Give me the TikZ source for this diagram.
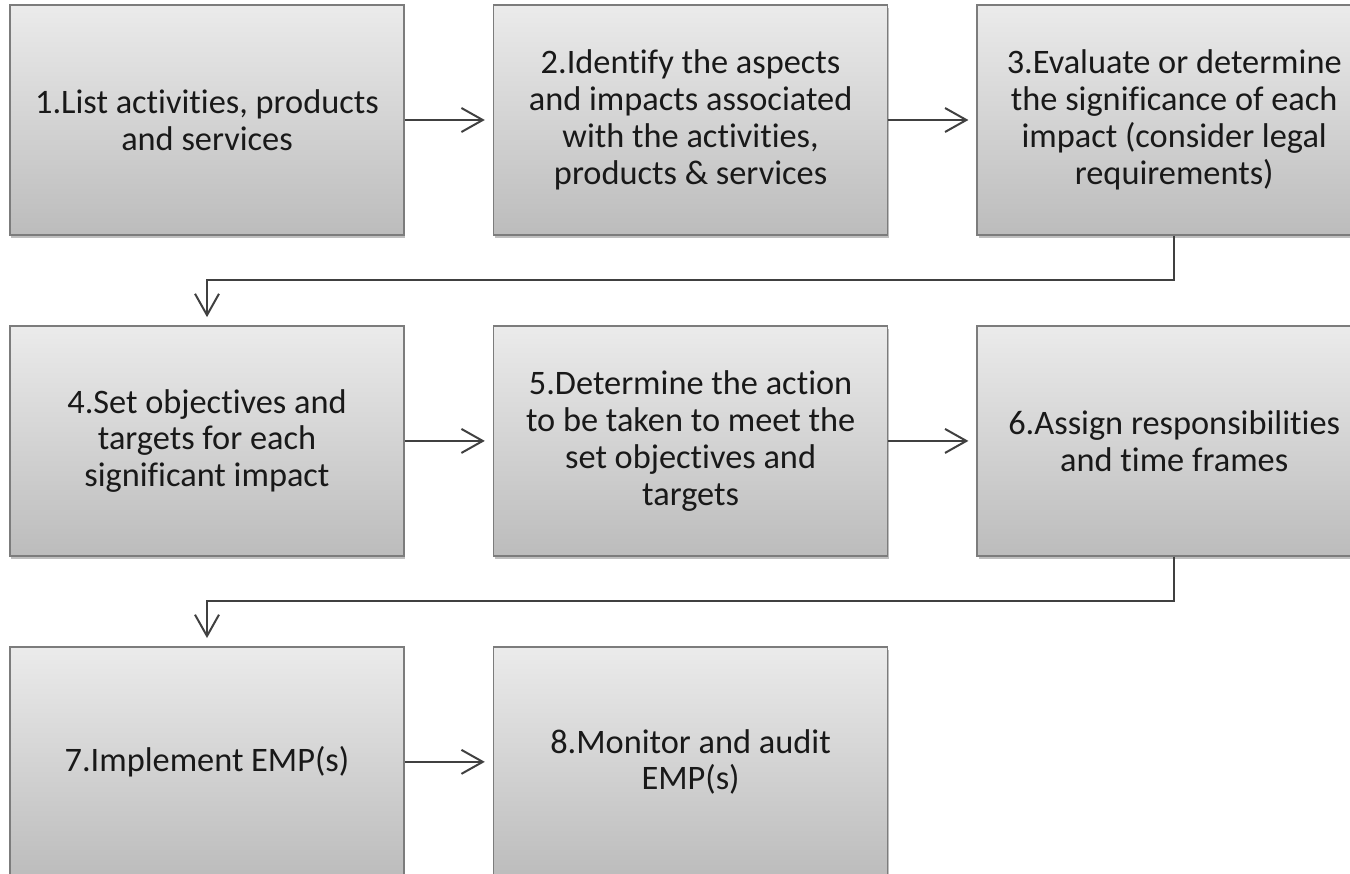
\documentclass[tikz,border=0pt]{standalone}
\usepackage{fontspec}
\setmainfont{Carlito}[Ligatures={NoCommon}]
\usetikzlibrary{arrows.meta, positioning, calc, shadows}

\definecolor{boxtop}{HTML}{EBEBEB}
\definecolor{boxbot}{HTML}{BCBCBC}
\definecolor{boxline}{HTML}{7C7C7C}
\definecolor{arrowline}{HTML}{404040}

\begin{document}
\begin{tikzpicture}[
  stepbox/.style = {draw=boxline, line width=1.2pt, top color=boxtop, bottom color=boxbot,
    minimum height=172.5pt, minimum width=295.5pt, align=center, inner sep=0pt,
    font=\fontsize{25.75pt}{27.6pt}\selectfont, text=black!90,
    drop shadow={shadow xshift=1pt, shadow yshift=-2pt, opacity=0.25, fill=black}},
  arrow/.style = {draw=arrowline, line width=1.5pt,
    -{Straight Barb[length=16pt, width=18pt, line width=1.5pt]}, shorten >=6pt},
  node distance=67pt and 66pt
]
  \useasboundingbox (0,0) rectangle (1012.5pt,-655.5pt);

  % first row
  \node[stepbox] (b1) at (155.25pt,-90pt) {1.List activities, products\\and services};
  \node[stepbox, right=of b1] (b2) {2.Identify the aspects\\and impacts associated\\with the activities,\\products \& services};
  \node[stepbox, right=of b2] (b3) {3.Evaluate or determine\\the significance of each\\impact (consider legal\\requirements)};

  % second row
  \node[stepbox, below=of b1] (b4) {4.Set objectives and\\targets for each\\significant impact};
  \node[stepbox, right=of b4] (b5) {5.Determine the action\\to be taken to meet the\\set objectives and\\targets};
  \node[stepbox, right=of b5] (b6) {6.Assign responsibilities\\and time frames};

  % third row
  \node[stepbox, below=of b4] (b7) {7.Implement EMP(s)};
  \node[stepbox, right=of b7] (b8) {8.Monitor and audit\\EMP(s)};

  % arrows within rows
  \draw[arrow] (b1.east) -- (b2.west);
  \draw[arrow] (b2.east) -- (b3.west);
  \draw[arrow] (b4.east) -- (b5.west);
  \draw[arrow] (b5.east) -- (b6.west);
  \draw[arrow] (b7.east) -- (b8.west);

  % row changes
  \coordinate (turn1) at ($(b3.south)!0.5!(b3.south |- b6.north)$);
  \draw[arrow] (b3.south) -- (turn1) -| (b4.north);
  \coordinate (turn2) at ($(b6.south)!0.5!(b6.south |- b8.north)$);
  \draw[arrow] (b6.south) -- (turn2) -| (b7.north);

\end{tikzpicture}
\end{document}
